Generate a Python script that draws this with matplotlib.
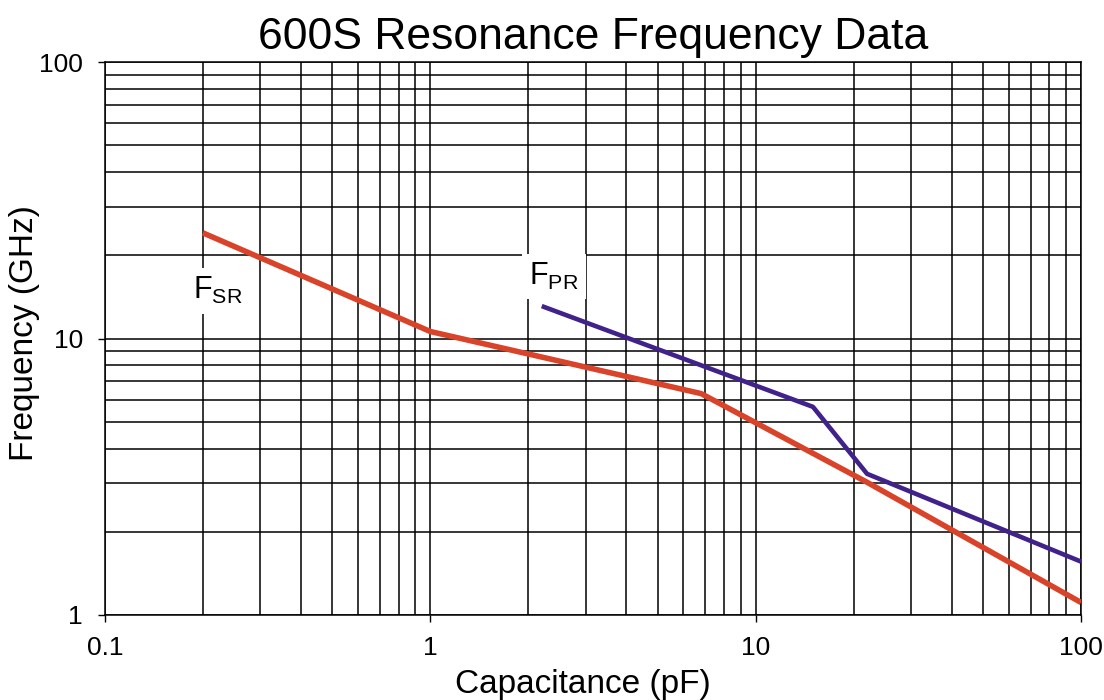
import numpy as np
import matplotlib
matplotlib.use("Agg")
import matplotlib.pyplot as plt
from matplotlib.ticker import LogLocator, FixedLocator, FixedFormatter, NullFormatter

plt.rcParams['font.family'] = ['Liberation Sans', 'DejaVu Sans']

# data
fsr_cap = [0.2, 1.0, 6.8, 22.0, 100.0]
fsr_freq = [24.1, 10.6, 6.32, 3.02, 1.11]
fpr_cap = [2.2, 15.0, 22.0, 100.0]
fpr_freq = [13.1, 5.66, 3.24, 1.56]

x_ticks = [0.1, 1, 10, 100]
x_labels = ['0.1', '1', '10', '100']
y_ticks = [1, 10, 100]
y_labels = ['1', '10', '100']

red = '#d9432a'
purple = '#40228a'

fig = plt.figure(figsize=(11.04, 7.0), dpi=100)
ax = fig.add_axes([105/1104, 1-615/700, (1081-105)/1104, (615-62)/700])

ax.set_xscale('log')
ax.set_yscale('log')
ax.set_xlim(0.1, 100)
ax.set_ylim(1, 100)

ax.plot(fsr_cap, fsr_freq, color=red, lw=4.0, solid_capstyle='butt', zorder=3)
ax.plot(fpr_cap, fpr_freq, color=purple, lw=3.3, solid_capstyle='butt', zorder=3)

ax.xaxis.set_major_locator(FixedLocator(x_ticks))
ax.xaxis.set_major_formatter(FixedFormatter(x_labels))
ax.yaxis.set_major_locator(FixedLocator(y_ticks))
ax.yaxis.set_major_formatter(FixedFormatter(y_labels))
ax.xaxis.set_minor_locator(LogLocator(base=10, subs=np.arange(2, 10)))
ax.yaxis.set_minor_locator(LogLocator(base=10, subs=np.arange(2, 10)))
ax.xaxis.set_minor_formatter(NullFormatter())
ax.yaxis.set_minor_formatter(NullFormatter())

ax.grid(True, which='both', color='black', lw=1.1, zorder=1)
ax.tick_params(which='major', direction='out', length=5, width=1, labelsize=19, color='black')
ax.tick_params(axis='y', which='major', pad=11)
ax.tick_params(axis='x', which='major', pad=10)
ax.tick_params(which='minor', length=0)
for s in ax.spines.values():
    s.set_color('black')
    s.set_linewidth(1.1)

ax.set_title('600S Resonance Frequency Data', fontsize=32, pad=9)
fig.text(583/1104, 1-684/700, 'Capacitance (pF)', fontsize=24, ha='center', va='center')
fig.text(25/1104, 1-333/700, 'Frequency (GHz)', fontsize=24, rotation=90,
         ha='center', va='center')

ax.text(0.1868, 13.85, r'$\mathregular{F_{SR}}$', fontsize=22, ha='left', va='baseline',
        bbox=dict(facecolor='white', edgecolor='none', pad=5), zorder=2)
ax.text(2.012, 15.6, r'$\mathregular{F_{PR}}$', fontsize=22, ha='left', va='baseline',
        bbox=dict(facecolor='white', edgecolor='none', pad=5), zorder=2)

fig.savefig('out.png', dpi=100)
